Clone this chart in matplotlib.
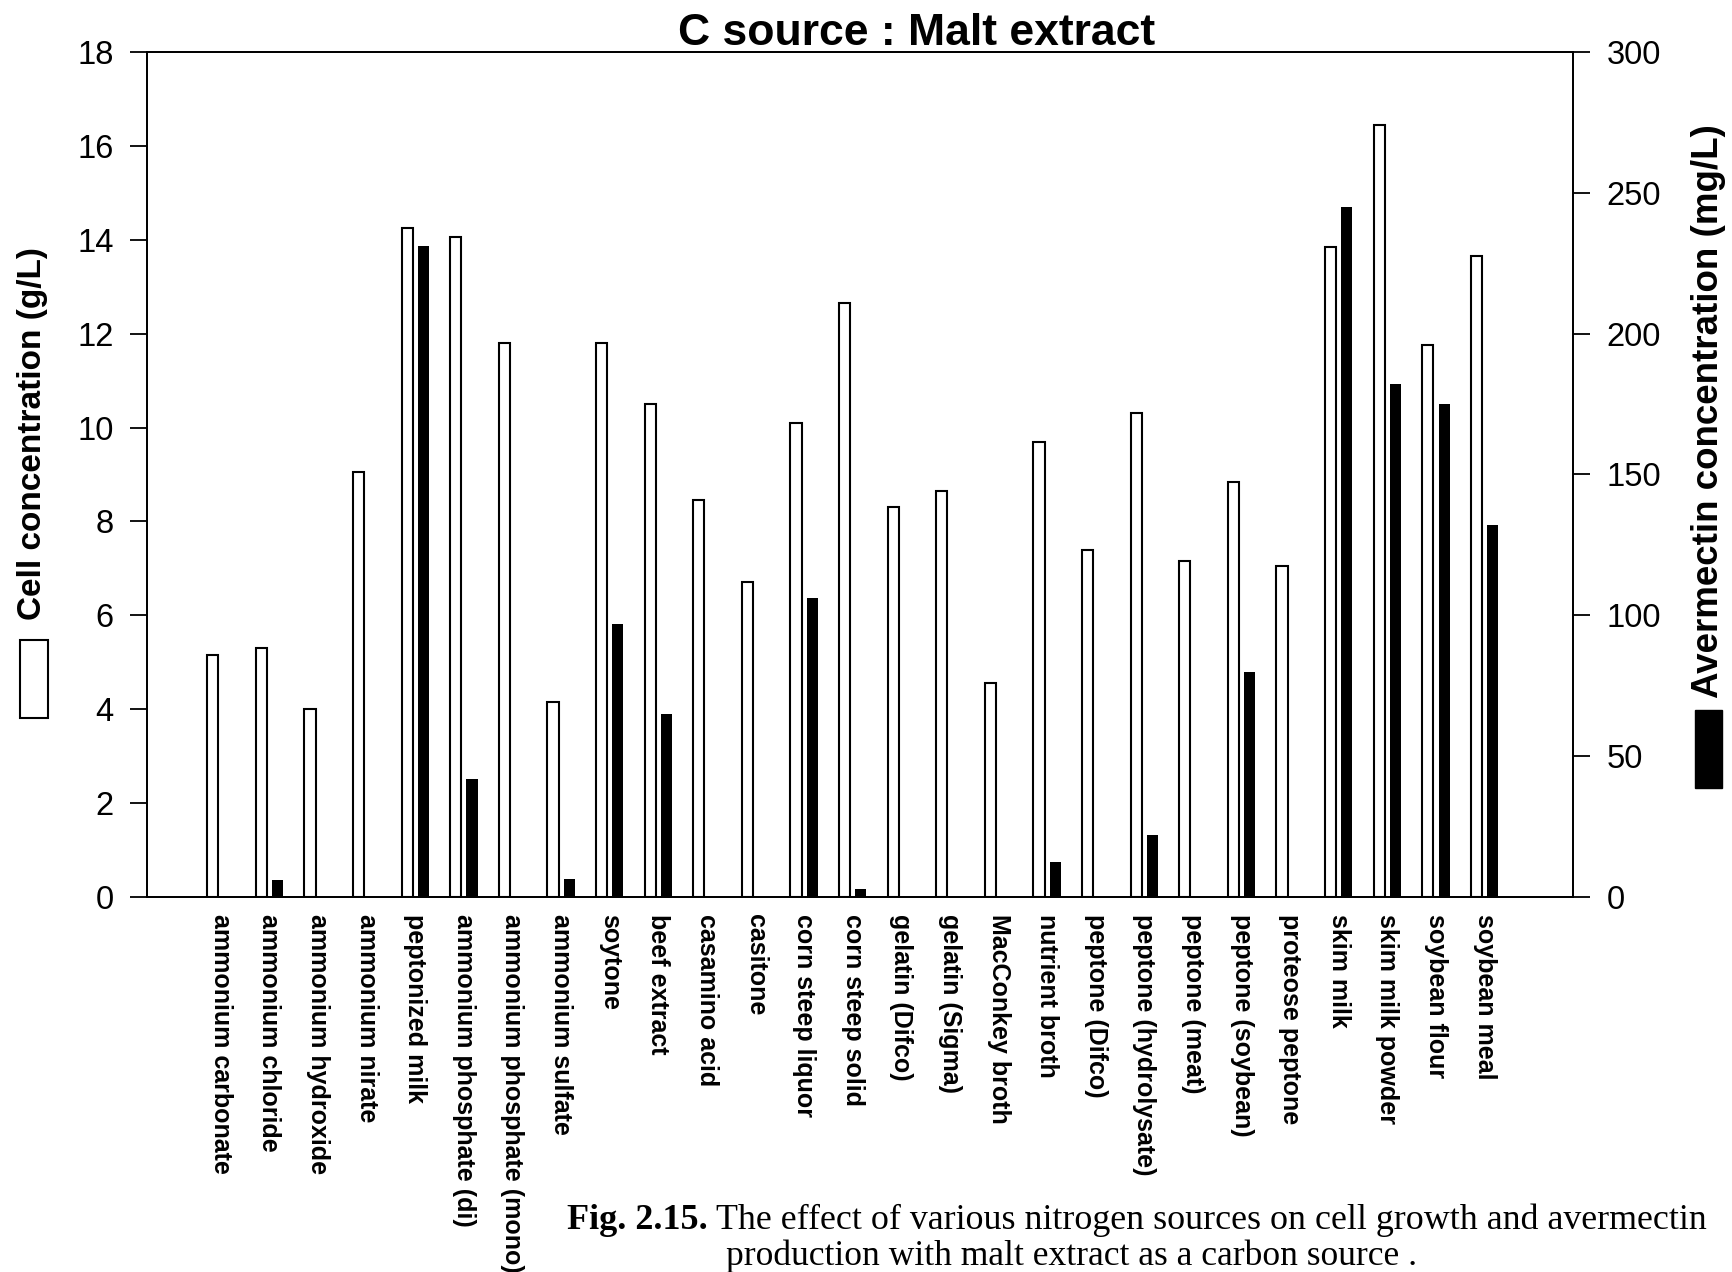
import matplotlib
matplotlib.use("Agg")
import matplotlib.pyplot as plt
from matplotlib.patches import Rectangle
import numpy as np

plt.rcParams['font.family'] = ['Liberation Sans', 'DejaVu Sans']

# datos
sources = ["ammonium carbonate", "ammonium chloride", "ammonium hydroxide", "ammonium nirate",
           "peptonized milk", "ammonium phosphate (di)", "ammonium phosphate (mono)",
           "ammonium sulfate", "soytone", "beef extract", "casamino acid", "casitone",
           "corn steep liquor", "corn steep solid", "gelatin (Difco)", "gelatin (Sigma)",
           "MacConkey broth", "nutrient broth", "peptone (Difco)", "peptone (hydrolysate)",
           "peptone (meat)", "peptone (soybean)", "proteose peptone", "skim milk",
           "skim milk powder", "soybean flour", "soybean meal"]
cell_conc = [5.15, 5.3, 4.0, 9.05, 14.25, 14.05, 11.8, 4.15, 11.8, 10.5, 8.45, 6.7,
             10.1, 12.65, 8.3, 8.65, 4.55, 9.7, 7.4, 10.3, 7.15, 8.85, 7.05, 13.85,
             16.45, 11.75, 13.65]
avermectin = [0, 6, 0, 0, 231, 42, 0, 6.5, 97, 65, 0, 0, 106, 3, 0, 0, 0, 12.5, 0, 22,
              0, 80, 0, 245, 182, 175, 132]
left_ticks = [0, 2, 4, 6, 8, 10, 12, 14, 16, 18]
right_ticks = [0, 50, 100, 150, 200, 250, 300]

W, H = 1732, 1272
fig = plt.figure(figsize=(W / 100, H / 100), dpi=100)
ax = fig.add_axes([147 / W, 1 - 897 / H, 1426 / W, 845 / H])
ax2 = ax.twinx()

x = np.arange(len(sources))
bw = 0.23
off = 0.168

ax.bar(x - off, cell_conc, width=bw, color='white', edgecolor='black', linewidth=1.5, zorder=2)
ax2.bar(x + off, avermectin, width=bw, color='black', linewidth=0, zorder=2)

ax.set_xlim(-1.52, 27.82)
ax.set_ylim(0, 18)
ax2.set_ylim(0, 300)
ax.set_yticks(left_ticks)
ax2.set_yticks(right_ticks)

ax.set_xticks(x)
ax.set_xticklabels(sources, rotation=270, fontsize=18, fontweight='bold', va='top', ha='center')
ax.tick_params(axis='x', length=0, pad=12)
ax.tick_params(axis='y', direction='out', length=12, width=1.3, labelsize=23.5, pad=12)
ax2.tick_params(axis='y', direction='out', length=12, width=1.3, labelsize=23.5, pad=12)

for a in (ax, ax2):
    for s in a.spines.values():
        s.set_linewidth(1.3)

# titulo
fig.text(917 / W, 1 - 45 / H, "C source : Malt extract", ha='center', va='baseline',
         fontsize=32, fontweight='bold')

# etiquetas de ejes con cuadrito de leyenda
fig.text(33 / W, 1 - 620 / H, "Cell concentration (g/L)", rotation=90, ha='center',
         va='bottom', fontsize=24, fontweight='bold')
fig.patches.append(Rectangle((20 / W, 1 - 718 / H), 28 / W, 78 / H, transform=fig.transFigure,
                             facecolor='white', edgecolor='black', linewidth=1.5))
fig.text(1708 / W, 1 - 698 / H, "Avermectin concentration (mg/L)", rotation=90, ha='center',
         va='bottom', fontsize=26.5, fontweight='bold')
fig.patches.append(Rectangle((1695 / W, 1 - 788 / H), 27 / W, 78 / H, transform=fig.transFigure,
                             facecolor='black', edgecolor='black', linewidth=1))

# pie de figura
fig.text(567 / W, 1 - 1229 / H, "Fig. 2.15.", family='Liberation Serif', fontweight='bold',
         fontsize=26, va='baseline')
fig.text(716 / W, 1 - 1229 / H,
         "The effect of various nitrogen sources on cell growth and avermectin",
         family='Liberation Serif', fontsize=25.8, va='baseline')
fig.text(726 / W, 1 - 1265 / H, "production with malt extract as a carbon source .",
         family='Liberation Serif', fontsize=25.6, va='baseline')

fig.savefig("out.png", dpi=100)
